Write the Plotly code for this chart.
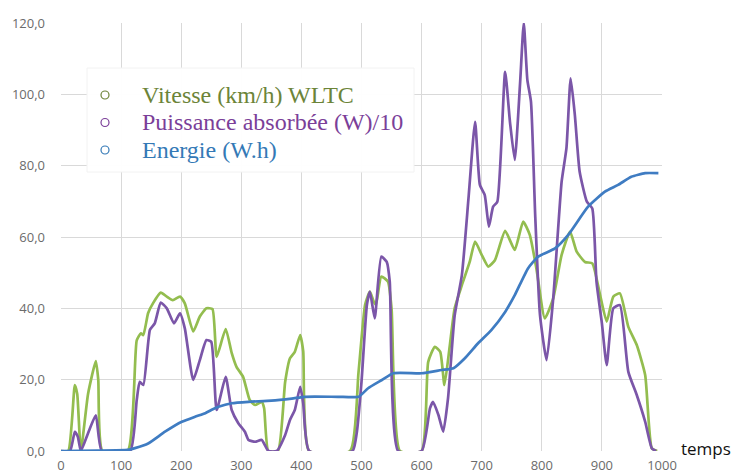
import plotly.graph_objects as go

# ---- data ----
series_names = ["Vitesse (km/h) WLTC", "Puissance absorbée (W)/10", "Energie (W.h)"]

t_vitesse = [0, 12, 23, 27, 33, 45, 58, 62, 69, 111, 126, 133, 137, 145, 153, 166, 176, 186, 198, 206,
             220, 231, 242, 252, 259, 274, 284, 292, 303, 314, 323, 334, 338, 345, 361, 373, 381, 389,
             398, 403, 413, 481, 495, 506, 514, 520, 524, 533, 544, 550, 564, 600, 611, 622, 631, 638,
             647, 655, 667, 680, 689, 700, 711, 722, 739, 755, 769, 780, 791, 805, 819, 833, 847, 858,
             872, 884, 897, 908, 919, 930, 944, 958, 972, 983, 992]
vitesse = [0, 0, 18.5, 16, 0, 16, 25.2, 20, 0, 0, 31, 33, 32.5, 38.7, 41.4, 44.4, 43.3, 42.3, 43.3, 41.4,
           33.5, 37.7, 40, 39.8, 26.4, 34.2, 27.5, 23.6, 20.8, 14.3, 12.9, 13.8, 12, 0, 0, 19.4, 26, 27.8,
           32.5, 28, 0, 0, 22, 41, 44.7, 42, 41, 48.9, 47.5, 40, 0, 0, 25, 29.2, 27.8, 18.5,
           29.7, 40, 46.5, 53, 58.7, 55, 51.7, 53.5, 61.7, 56.4, 64.3, 60.6, 51.2, 37.2, 42.8, 55, 61.5, 55.9,
           53, 52.6, 43.7, 36.3, 43.3, 44.2, 34.8, 29.7, 21.3, 0.8, 0]

t_puissance = [0, 15, 23, 28, 33, 45, 58, 68, 115, 126, 131, 137, 148, 156, 166, 176, 188, 198, 206, 220,
               231, 242, 250, 259, 274, 284, 295, 306, 312, 323, 334, 345, 359, 373, 381, 389, 398, 403,
               413, 485, 492, 500, 509, 514, 522, 533, 542, 547, 561, 600, 614, 619, 628, 636, 644, 655,
               667, 678, 689, 697, 705, 712, 719, 726, 739, 747, 755, 764, 770, 776, 782, 789, 797, 808,
               819, 833, 841, 848, 855, 863, 875, 884, 891, 900, 908, 919, 930, 944, 958, 972, 983, 990]
puissance = [0, 0, 5.4, 4, 0, 5, 10, 0, 0, 14.3, 19.4, 18.5, 34, 35.8, 41.6, 40, 35.8, 38.6, 34.4, 19.9,
             25.5, 31.1, 30.6, 11.5, 20.8, 11.5, 7.8, 5.4, 3.1, 2.6, 3.1, 0, 0, 4.5, 8.7, 11.5, 18, 13.4,
             0, 0, 5, 19.4, 41, 44.7, 37.2, 54.5, 53, 47.5, 0, 0, 12, 13.8, 10.1, 5.4, 14.8, 38,
             49.3, 70.8, 92.3, 74.6, 71.8, 62.9, 68.5, 69.9, 106.3, 92.3, 81.6, 103.5, 120, 104, 97.9, 66.2, 38.1, 25.5,
             42.8, 75.5, 84.9, 104.5, 94.2, 78.3, 69.9, 68, 47.5, 35.8, 24.1, 40, 40.9, 22.2, 15.7, 8.2, 0.8, 0]

t_energie = [0, 60, 111, 123, 145, 173, 201, 223, 240, 250, 262, 284, 312, 350, 384, 406, 461, 495, 511,
             534, 553, 600, 633, 653, 672, 694, 716, 739, 755, 777, 794, 822, 844, 877, 905, 927, 949,
             972, 994]
energie = [0, 0.1, 0.3, 0.8, 2.1, 5.4, 8.2, 9.6, 10.6, 11.5, 12.4, 13.4, 13.8, 14.1, 14.7, 15.2, 15.2, 15.2, 17.6,
           19.9, 21.8, 21.8, 22.7, 23.2, 26, 30.2, 33.9, 39, 43.7, 51.2, 54.5, 56.8, 60.6, 68.5, 72.7, 74.6, 76.9,
           77.9, 77.9]

x_ticks = [0, 100, 200, 300, 400, 500, 600, 700, 800, 900, 1000]
y_ticks = [0, 20, 40, 60, 80, 100, 120]
y_ticklabels = ["0,0", "20,0", "40,0", "60,0", "80,0", "100,0", "120,0"]

line_colors = ["#93BD4F", "#7B56A8", "#3F7CC2"]
text_colors = ["#6C8438", "#7B3F99", "#3479B6"]

# ---- figure ----
W, H = 740, 474
L, R, T, B = 61, 78, 23, 23
pw, ph = W - L - R, H - T - B


def px_x(p):
    return (p - L) / pw


def px_y(p):
    return (H - B - p) / ph


fig = go.Figure()
for xs, ys, c in [(t_vitesse, vitesse, line_colors[0]),
                  (t_puissance, puissance, line_colors[1]),
                  (t_energie, energie, line_colors[2])]:
    fig.add_trace(go.Scatter(x=xs, y=ys, mode="lines",
                             line=dict(color=c, width=2.7, shape="spline", smoothing=0.5),
                             showlegend=False, hoverinfo="skip"))

# legend box (drawn manually)
shapes = [dict(type="rect", xref="paper", yref="paper",
               x0=px_x(87), x1=px_x(414), y0=px_y(172), y1=px_y(68),
               fillcolor="rgba(255,255,255,0.97)", line=dict(color="#F2F2F2", width=1),
               layer="above")]
annotations = []
rows = [95, 122.5, 150]
for name, lc, tc, ry in zip(series_names, line_colors, text_colors, rows):
    shapes.append(dict(type="circle", xref="paper", yref="paper",
                       x0=px_x(101), x1=px_x(109), y0=px_y(ry + 4), y1=px_y(ry - 4),
                       line=dict(color=tc, width=1.2), fillcolor="rgba(0,0,0,0)", layer="above"))
    annotations.append(dict(xref="paper", yref="paper", x=px_x(140), y=px_y(ry),
                            xanchor="left", yanchor="middle", showarrow=False, text=name,
                            font=dict(family="Liberation Serif", size=24, color=tc)))

annotations.append(dict(xref="paper", yref="paper", x=px_x(679), y=px_y(448),
                        xanchor="left", yanchor="middle", showarrow=False, text="temps",
                        font=dict(family="Open Sans", size=17, color="#111111")))

fig.update_layout(
    width=W, height=H,
    margin=dict(l=L, r=R, t=T, b=B, autoexpand=False),
    paper_bgcolor="white", plot_bgcolor="white",
    shapes=shapes, annotations=annotations,
    xaxis=dict(range=[0, 1000], tickvals=x_ticks, showgrid=True, gridcolor="#D9D9D9", gridwidth=1,
               zeroline=False, showline=False, ticks="", automargin=False,
               ticklabelstandoff=5,
               tickfont=dict(family="Open Sans", size=13, color="#6B6B6B")),
    yaxis=dict(range=[0, 120], tickvals=y_ticks, ticktext=y_ticklabels, showgrid=True,
               gridcolor="#D9D9D9", gridwidth=1, zeroline=False, showline=False, ticks="",
               ticklabelstandoff=15, automargin=False,
               tickfont=dict(family="Open Sans", size=13, color="#6B6B6B")),
)

fig.write_html("out.html", config={"displayModeBar": False},
               post_script="document.body.style.margin='0';document.body.style.overflow='hidden';")
